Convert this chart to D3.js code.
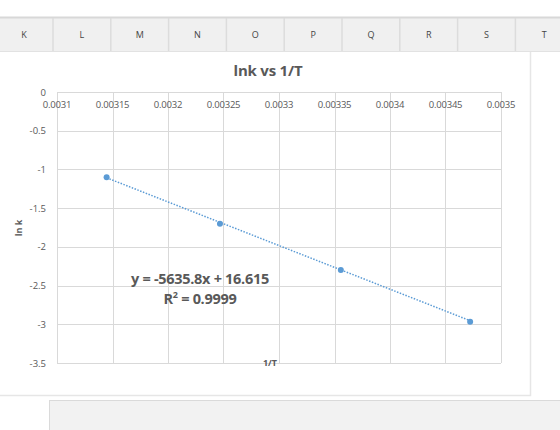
<!DOCTYPE html>
<html>
<head>
<meta charset="utf-8">
<script src="https://cdn.jsdelivr.net/npm/d3@7"></script>
<style>
  body { margin: 0; background: #fff; }
  svg { display: block; font-family: "Open Sans", "Noto Sans", sans-serif; }
</style>
</head>
<body>
<svg id="chart" width="560" height="430"></svg>
<script>
// spreadsheet column letters
const columns = ['K', 'L', 'M', 'N', 'O', 'P', 'Q', 'R', 'S', 'T'];

// 1/T (K^-1) and ln k
const invT = [0.0031447, 0.0032468, 0.0033557, 0.0034722];
const lnK = [-1.102, -1.701, -2.299, -2.967];

// trendline as printed on the chart
const slope = -5635.8;
const intercept = 16.615;
const r2Label = '0.9999';

const xTicks = [0.0031, 0.00315, 0.0032, 0.00325, 0.0033, 0.00335, 0.0034, 0.00345, 0.0035];
const yTicks = [0, -0.5, -1, -1.5, -2, -2.5, -3, -3.5];

const svg = d3.select('#chart');
const grey = '#595959';
const blue = '#5b9bd5';

// --- spreadsheet chrome ---
const colW = 57.8;
const colX0 = -4.8;
const header = svg.append('g');
header.append('rect')
  .attr('x', 0).attr('y', 17.5).attr('width', 560).attr('height', 34)
  .attr('fill', '#f0f0f0');
header.append('line')
  .attr('x1', 0).attr('x2', 560).attr('y1', 17.5).attr('y2', 17.5)
  .attr('stroke', '#d8d8d8').attr('stroke-width', 2);
header.append('line')
  .attr('x1', 0).attr('x2', 560).attr('y1', 51.5).attr('y2', 51.5)
  .attr('stroke', '#e2e2e2').attr('stroke-width', 1);
columns.forEach((c, i) => {
  const x = colX0 + i * colW;
  if (i > 0) {
    header.append('line')
      .attr('x1', x).attr('x2', x).attr('y1', 18).attr('y2', 51)
      .attr('stroke', '#dcdcdc').attr('stroke-width', 1.5);
  }
  header.append('text')
    .attr('x', x + colW / 2).attr('y', 38)
    .attr('text-anchor', 'middle')
    .attr('font-size', 9)
    .attr('fill', '#444')
    .text(c);
});

// chart border (right and bottom)
svg.append('path')
  .attr('d', 'M0,395.5 H530.5 V52')
  .attr('fill', 'none')
  .attr('stroke', '#e6e6e6')
  .attr('stroke-width', 1.5);

// grey strip below
svg.append('rect')
  .attr('x', 49.5).attr('y', 400.5).attr('width', 520).attr('height', 40)
  .attr('fill', '#f2f2f2')
  .attr('stroke', '#dadada');

// --- plot ---
const plot = { left: 57, right: 501, top: 92, bottom: 363 };

const x = d3.scaleLinear().domain([0.0031, 0.0035]).range([plot.left, plot.right]);
const y = d3.scaleLinear().domain([0, -3.5]).range([plot.top, plot.bottom]);

const g = svg.append('g');

g.append('g').selectAll('line')
  .data(yTicks)
  .join('line')
  .attr('x1', plot.left).attr('x2', plot.right)
  .attr('y1', d => Math.round(y(d)) + 0.5).attr('y2', d => Math.round(y(d)) + 0.5)
  .attr('stroke', '#d9d9d9');

g.append('g').selectAll('line')
  .data(xTicks)
  .join('line')
  .attr('x1', d => Math.round(x(d)) + 0.5).attr('x2', d => Math.round(x(d)) + 0.5)
  .attr('y1', plot.top).attr('y2', plot.bottom)
  .attr('stroke', '#d9d9d9');

// x labels sit just under the axis line at y = 0
g.append('g').selectAll('text')
  .data(xTicks)
  .join('text')
  .attr('x', d => x(d))
  .attr('y', plot.top + 16)
  .attr('text-anchor', 'middle')
  .attr('font-size', 9.5)
  .attr('letter-spacing', -0.2)
  .attr('fill', grey)
  .text(d => d3.format('')(+d.toPrecision(6)));

g.append('g').selectAll('text')
  .data(yTicks)
  .join('text')
  .attr('x', 46)
  .attr('y', d => y(d) + 3.5)
  .attr('text-anchor', 'end')
  .attr('font-size', 9.5)
  .attr('fill', grey)
  .text(d => d);

// trendline
const tx = d3.extent(invT);
g.append('line')
  .attr('x1', x(tx[0])).attr('y1', y(slope * tx[0] + intercept))
  .attr('x2', x(tx[1])).attr('y2', y(slope * tx[1] + intercept))
  .attr('stroke', blue)
  .attr('stroke-width', 1.5)
  .attr('stroke-dasharray', '1.5,1.5');

g.append('g').selectAll('circle')
  .data(invT)
  .join('circle')
  .attr('cx', d => x(d))
  .attr('cy', (d, i) => y(lnK[i]))
  .attr('r', 3)
  .attr('fill', blue);

// titles
svg.append('text')
  .attr('x', 268).attr('y', 76)
  .attr('text-anchor', 'middle')
  .attr('font-size', 15).attr('font-weight', 'bold')
  .attr('letter-spacing', -0.2)
  .attr('fill', grey)
  .text('lnk vs 1/T');

svg.append('text')
  .attr('x', 270).attr('y', 366)
  .attr('text-anchor', 'middle')
  .attr('font-size', 9).attr('font-weight', 'bold')
  .attr('fill', grey)
  .text('1/T');

svg.append('text')
  .attr('transform', 'translate(22,228) rotate(-90)')
  .attr('text-anchor', 'middle')
  .attr('font-size', 9).attr('font-weight', 'bold')
  .attr('fill', grey)
  .text('ln k');

// equation label
const eq = svg.append('text')
  .attr('text-anchor', 'middle')
  .attr('font-size', 14.5).attr('font-weight', 'bold')
  .attr('fill', grey)
  .attr('letter-spacing', -0.3);
eq.append('tspan').attr('x', 200).attr('y', 284)
  .text(`y = ${slope}x + ${intercept}`);
const r2 = eq.append('tspan').attr('x', 200).attr('y', 304);
r2.append('tspan').text('R');
r2.append('tspan').attr('font-size', 9).attr('dy', -6).text('2');
r2.append('tspan').attr('dy', 6).text(` = ${r2Label}`);
</script>
</body>
</html>
